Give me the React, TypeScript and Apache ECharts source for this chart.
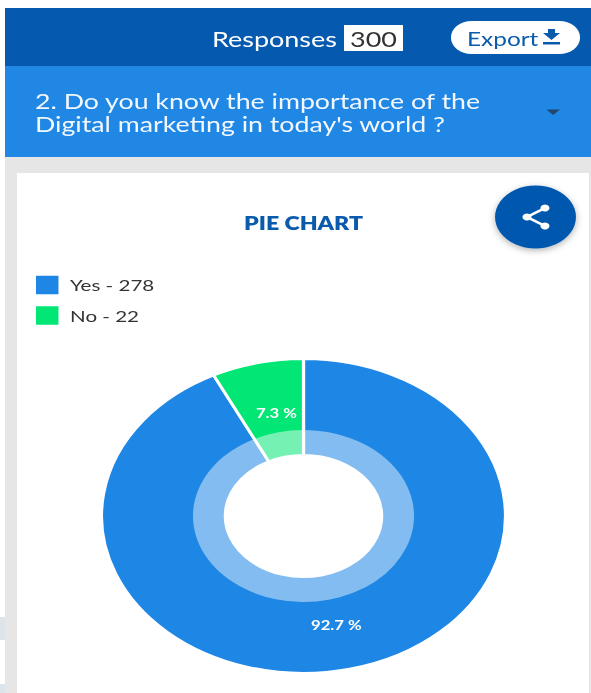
import React, { useEffect, useRef } from "react";
import * as echarts from "echarts";

const categories = ["Yes", "No"];
const responses = [278, 22];
const totalResponses = "300";
const chartTitle = "PIE CHART";
const questionLines = ["2. Do you know the importance of the", "Digital marketing in today's world ?"];
const sliceColors = ["#1e86e5", "#02e676"];

const W = 591;
const H = 693;
const S = 1.285; // the whole reference is stretched horizontally
const sx = (x: number) => x / S;
const FONT = "Lato";

const rect = (x0: number, y0: number, x1: number, y1: number, fill: string, r = 0, extra: any = {}) => ({
  type: "rect",
  silent: true,
  shape: { x: sx(x0), y: y0, width: sx(x1 - x0), height: y1 - y0, r },
  style: { fill, ...extra },
});
const label = (x: number, y: number, text: string, fill: string, fontSize: number, extra: any = {}) => ({
  type: "text",
  silent: true,
  style: { x: sx(x), y, text, fill, fontSize, fontFamily: FONT, verticalAlign: "middle", ...extra },
});

export default function App() {
  const ref = useRef<HTMLDivElement>(null);
  useEffect(() => {
    const chart = echarts.init(ref.current!, undefined, { renderer: "svg" });
    const labelOffsets = [[0, 0], [4.5, 6]];
    const data = categories.map((name, i) => ({
      name,
      value: responses[i],
      itemStyle: { color: sliceColors[i] },
      label: { offset: labelOffsets[i] },
    }));
    const cx = sx(303.5);
    const cy = 516;
    chart.setOption({
      animation: false,
      backgroundColor: "#ffffff",
      title: {
        text: chartTitle,
        left: sx(303.5),
        top: 214,
        padding: 0,
        textAlign: "center",
        textStyle: { color: "#0a5bab", fontSize: 18, fontWeight: 800, fontFamily: FONT },
      },
      legend: {
        orient: "vertical",
        left: 26,
        top: 273.7,
        padding: 0,
        itemWidth: 19.5,
        itemHeight: 20.5,
        itemGap: 8,
        icon: "rect",
        selectedMode: false,
        data: categories,
        formatter: (name: string) => `${name} - ${responses[categories.indexOf(name)]}`,
        textStyle: { color: "#333333", fontSize: 16, fontFamily: FONT, padding: [0, 0, 0, 3] },
      },
      graphic: [
        {
          type: "group",
          z: -1,
          silent: true,
          children: [
            rect(5, 8, W, 66, "#0559ae"),
            rect(5, 66, W, 157, "#2087e5"),
            rect(5, 157, W, 693, "#e6e6e6"),
            rect(17, 173, 589, 693, "#ffffff"),
            rect(0, 617, 5, 640, "#dde5ea"),
            rect(0, 684, 5, 693, "#dde5ea"),
          ],
        },
        {
          type: "group",
          silent: true,
          children: [
            label(212, 39, "Responses", "#ffffff", 21),
            rect(344, 25, 403, 51, "#ffffff"),
            label(373.5, 39, totalResponses, "#333333", 21, { align: "center" }),
            rect(451, 21, 580, 54, "#ffffff", 16),
            label(467, 38.5, "Export", "#0a5bab", 19),
            {
              type: "polygon",
              silent: true,
              shape: {
                points: [
                  [sx(548), 29], [sx(555), 29], [sx(555), 33], [sx(560), 33],
                  [sx(551.5), 40], [sx(543), 33], [sx(548), 33],
                ],
              },
              style: { fill: "#0a5bab" },
            },
            rect(543, 42, 560, 44.5, "#0a5bab"),
            label(35, 101, questionLines[0], "#f2f8fe", 20.8),
            label(35, 124, questionLines[1], "#f2f8fe", 20.8),
            {
              type: "polygon",
              silent: true,
              shape: { points: [[sx(546.5), 109.5], [sx(560), 109.5], [sx(553.2), 115]] },
              style: { fill: "#21456e" },
            },
            {
              type: "circle",
              silent: true,
              shape: { cx: sx(535.5), cy: 217, r: 31.5 },
              style: { fill: "#0559ae", shadowBlur: 6, shadowColor: "rgba(0,0,0,0.3)", shadowOffsetY: 2 },
            },
            {
              type: "polyline",
              silent: true,
              shape: { points: [[sx(545), 208], [sx(527), 217], [sx(545), 226]] },
              style: { fill: "none", stroke: "#ffffff", lineWidth: 2.5 },
            },
            { type: "circle", silent: true, shape: { cx: sx(545), cy: 208, r: 3.5 }, style: { fill: "#ffffff" } },
            { type: "circle", silent: true, shape: { cx: sx(527), cy: 217, r: 3.5 }, style: { fill: "#ffffff" } },
            { type: "circle", silent: true, shape: { cx: sx(545), cy: 226, r: 3.5 }, style: { fill: "#ffffff" } },
          ],
        },
      ],
      series: [
        {
          type: "pie",
          center: [cx, cy],
          radius: [60.8, 157.2],
          startAngle: 90,
          clockwise: true,
          percentPrecision: 1,
          silent: true,
          data,
          itemStyle: { borderColor: "#ffffff", borderWidth: 2.5 },
          label: {
            show: true,
            position: "inside",
            formatter: "{d} %",
            color: "#ffffff",
            fontSize: 13,
            fontWeight: 700,
            fontFamily: FONT,
          },
          labelLine: { show: false },
          z: 2,
        },
        {
          type: "pie",
          center: [cx, cy],
          radius: [60.8, 86],
          startAngle: 90,
          clockwise: true,
          silent: true,
          data: categories.map((name, i) => ({
            name,
            value: responses[i],
            itemStyle: { color: "rgba(255,255,255,0.45)" },
          })),
          itemStyle: { borderWidth: 0 },
          label: { show: false },
          labelLine: { show: false },
          z: 3,
        },
      ],
    });
    return () => chart.dispose();
  }, []);
  return (
    <div
      ref={ref}
      style={{
        position: "absolute",
        left: 0,
        top: 0,
        width: W / S,
        height: H,
        transform: `scaleX(${S})`,
        transformOrigin: "0 0",
        overflow: "hidden",
      }}
    />
  );
}
